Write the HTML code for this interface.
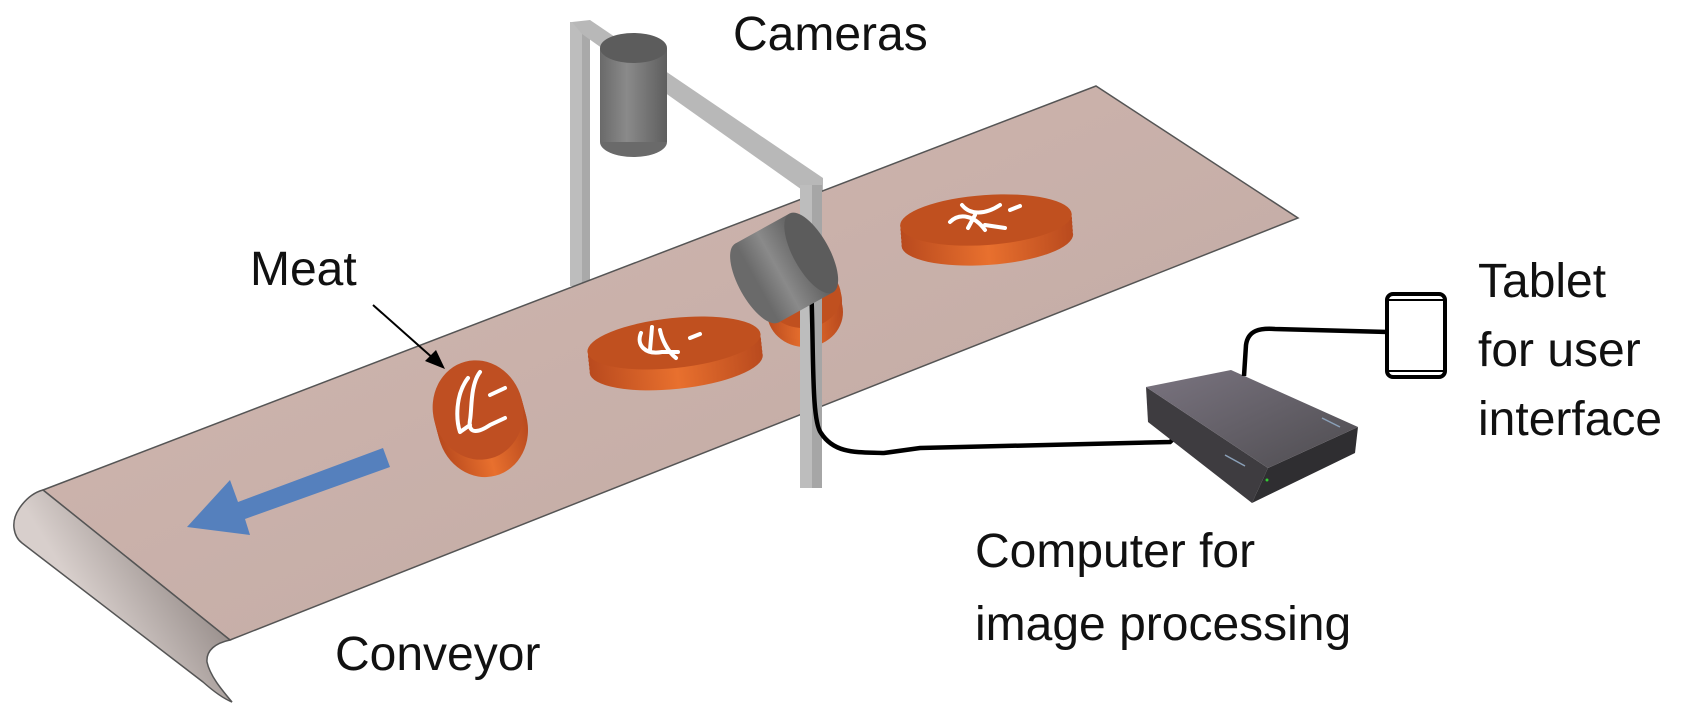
<!DOCTYPE html>
<html><head><meta charset="utf-8"><style>
html,body{margin:0;padding:0;background:#fff;}
svg{display:block;}
text{font-family:"Liberation Sans",sans-serif;font-size:48px;fill:#111;}
</style></head><body>
<svg width="1702" height="714" viewBox="0 0 1702 714" xmlns="http://www.w3.org/2000/svg">
<defs>
<linearGradient id="belt" x1="0" y1="0" x2="1" y2="1">
<stop offset="0" stop-color="#d2b7b0"/><stop offset="1" stop-color="#bfa9a3"/></linearGradient>
<linearGradient id="roll" x1="0" y1="0" x2="1" y2="-0.6">
<stop offset="0" stop-color="#d8cfcc"/><stop offset="0.5" stop-color="#8f8582"/><stop offset="1" stop-color="#cfc6c3"/></linearGradient>
<linearGradient id="cyl" x1="0" y1="0" x2="1" y2="0">
<stop offset="0" stop-color="#6a6a6a"/><stop offset="0.4" stop-color="#8a8a8a"/><stop offset="1" stop-color="#5e5e5e"/></linearGradient>
<linearGradient id="ms" x1="0" y1="0" x2="1" y2="0">
<stop offset="0" stop-color="#b94a1e"/><stop offset="0.5" stop-color="#e8702e"/><stop offset="1" stop-color="#b94a1e"/></linearGradient>
<linearGradient id="comp" x1="0" y1="0" x2="1" y2="1">
<stop offset="0" stop-color="#7a7480"/><stop offset="1" stop-color="#4e4c50"/></linearGradient>
</defs>

<!-- frame left post and bar -->
<rect x="570" y="22" width="20" height="264" fill="#bdbdbd"/>
<rect x="582" y="22" width="8" height="264" fill="#a9a9a9"/>
<polygon points="572,22 590,20 823,178 823,196 805,192 582,34" fill="#b8b8b8"/>
<!-- camera 1 -->
<ellipse cx="633.5" cy="142" rx="33.5" ry="15" fill="#6a6a6a"/>
<rect x="600" y="48" width="67" height="94" fill="url(#cyl)"/>
<ellipse cx="633.5" cy="48" rx="33.5" ry="15" fill="#5c5c5c"/>

<!-- belt -->
<polygon points="43,490 1096,86 1298,218 230,640" fill="url(#belt)" stroke="#555" stroke-width="1.5"/>
<path d="M43,490 C28,494 12,512 14,528 C15,536 18,540 22,543 L203,682 C212,690 222,698 232,702 C222,690 210,676 207,662 C206,650 216,643 230,640 Z" fill="url(#roll)" stroke="#555" stroke-width="1.5"/>

<!-- direction arrow -->
<polygon points="383,448 390,467 245,519 250,535 187,527 230,480 238,502" fill="#5580bd"/>

<!-- meat 1 -->
<g transform="rotate(-15 478 410)" fill="url(#ms)">
<ellipse cx="478" cy="428" rx="45" ry="50"/><ellipse cx="478" cy="425" rx="45" ry="50"/><ellipse cx="478" cy="422" rx="45" ry="50"/><ellipse cx="478" cy="419" rx="45" ry="50"/><ellipse cx="478" cy="416" rx="45" ry="50"/><ellipse cx="478" cy="413" rx="45" ry="50"/>
<ellipse cx="478" cy="410" rx="45" ry="50" fill="#bf4f22"/>
</g>
<path d="M468,378 C455,395 456,420 460,432 M480,372 C470,385 472,410 470,420 C468,432 475,435 490,425 L505,418 M490,395 L505,388 M460,432 L470,425" stroke="#fff" stroke-width="4" fill="none" stroke-linecap="round"/>
<!-- meat 2 -->
<g transform="rotate(-6 674 343)" fill="url(#ms)">
<ellipse cx="674" cy="364" rx="87" ry="25"/><ellipse cx="674" cy="360" rx="87" ry="25"/><ellipse cx="674" cy="356" rx="87" ry="25"/><ellipse cx="674" cy="352" rx="87" ry="25"/><ellipse cx="674" cy="348" rx="87" ry="25"/>
<ellipse cx="674" cy="343" rx="87" ry="25" fill="#c0501f"/>
</g>
<path d="M641,333 C636,345 645,355 662,352 L678,352 M652,327 L650,350 M660,330 C662,340 668,352 676,358 M690,338 L700,334" stroke="#fff" stroke-width="4" fill="none" stroke-linecap="round"/>
<!-- meat 3 -->
<g transform="rotate(-4 986 221)" fill="url(#ms)">
<ellipse cx="986" cy="240" rx="86" ry="25"/><ellipse cx="986" cy="236" rx="86" ry="25"/><ellipse cx="986" cy="232" rx="86" ry="25"/><ellipse cx="986" cy="228" rx="86" ry="25"/><ellipse cx="986" cy="224" rx="86" ry="25"/>
<ellipse cx="986" cy="220" rx="86" ry="25" fill="#c0501f"/>
</g>
<path d="M950,222 C960,212 975,216 985,230 M962,205 C970,215 985,215 1000,205 M975,215 L968,228 M985,225 L1005,228 M1010,210 L1020,206" stroke="#fff" stroke-width="4" fill="none" stroke-linecap="round"/>
<!-- meat behind camera -->
<g fill="url(#ms)">
<ellipse cx="805" cy="312" rx="38" ry="35"/><ellipse cx="804" cy="306" rx="38" ry="34"/><ellipse cx="804" cy="301" rx="38" ry="33"/>
<ellipse cx="803" cy="296" rx="38" ry="32" fill="#c0501f"/>
</g>

<!-- right post -->
<rect x="800" y="185" width="22" height="303" fill="#bdbdbd"/>
<rect x="812" y="185" width="10" height="303" fill="#a6a6a6"/>

<!-- camera 2 cable -->
<path d="M811,283 C814,350 811,420 821,433 C835,455 860,452 884,453 L920,448 L1170,442 L1181,432" stroke="#000" stroke-width="4.5" fill="none"/>
<!-- camera 2 -->
<g transform="translate(757,283) rotate(-29)">
<ellipse cx="0" cy="0" rx="18" ry="45" fill="#6a6a6a"/>
<rect x="0" y="-45" width="62" height="90" fill="url(#cyl)"/>
<ellipse cx="62" cy="0" rx="18" ry="45" fill="#5c5c5c"/>
</g>

<!-- computer -->
<polygon points="1146,387 1268,468 1252,503 1148,422" fill="#3e3c40"/>
<polygon points="1268,468 1358,427 1355,453 1252,503" fill="#2f2e31"/>
<polygon points="1146,387 1231,370 1358,427 1268,468" fill="url(#comp)"/>
<line x1="1225" y1="455" x2="1245" y2="466" stroke="#8aa0b8" stroke-width="1.5"/>
<line x1="1322" y1="418" x2="1340" y2="427" stroke="#8aa0b8" stroke-width="1.5"/>
<circle cx="1267" cy="480" r="1.5" fill="#3c3"/>
<path d="M1244,376 L1246,345 C1248,330 1260,328 1275,329 L1388,332" stroke="#000" stroke-width="4.5" fill="none"/>
<!-- tablet -->
<rect x="1387" y="294" width="58" height="83" rx="6" fill="#fff" stroke="#000" stroke-width="4"/>
<line x1="1389" y1="300" x2="1443" y2="300" stroke="#000" stroke-width="2"/>
<line x1="1389" y1="371" x2="1443" y2="371" stroke="#000" stroke-width="2"/>

<!-- meat label arrow -->
<line x1="373" y1="305" x2="435" y2="360" stroke="#000" stroke-width="2"/>
<polygon points="445,369 425,361 436,350" fill="#000"/>

<text x="733" y="50">Cameras</text>
<text x="250" y="285">Meat</text>
<text x="335" y="670">Conveyor</text>
<text x="975" y="567">Computer for</text>
<text x="975" y="640">image processing</text>
<text x="1478" y="297">Tablet</text>
<text x="1478" y="366">for user</text>
<text x="1478" y="435">interface</text>
</svg>
</body></html>
